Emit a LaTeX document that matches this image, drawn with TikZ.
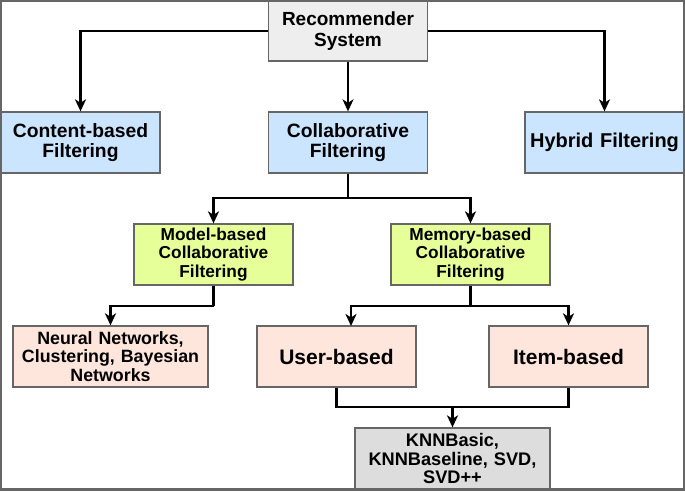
\documentclass[tikz,border=0pt]{standalone}
\usepackage{fontspec}
\setmainfont{Liberation Sans}
\usetikzlibrary{arrows.meta}
\definecolor{recfill}{HTML}{EEEEEE}
\definecolor{bluefill}{HTML}{CCE5FF}
\definecolor{greenfill}{HTML}{E6FF99}
\definecolor{pinkfill}{HTML}{FFE6DD}
\definecolor{knnfill}{HTML}{DDDDDD}
\definecolor{edgegray}{HTML}{666666}
\tikzset{
  box/.style={draw=edgegray, line width=1.3pt, align=center, inner sep=2pt,
    font=\bfseries, minimum height=61pt, text width=#1-4pt, minimum width=#1},
  box/.default=159pt,
  conn/.style={draw=black, line width=2.4pt, -{Stealth[length=12pt,width=11pt,inset=3.5pt]}},
  plain/.style={draw=black, line width=2.4pt}
}
\begin{document}
\begin{tikzpicture}[x=1pt,y=-1pt]
\useasboundingbox (0,0) rectangle (685,491);
\draw[edgegray, line width=2.2pt] (1,1) rectangle (684,489.5);

\node[box, fill=recfill, minimum height=60pt, font=\bfseries\fontsize{19}{20.5}\selectfont] (rec) at (348,31) {Recommender\\System};
\node[box, fill=bluefill, font=\bfseries\fontsize{19.3}{20.5}\selectfont] (cb) at (80.5,142.5) {Content-based\\Filtering};
\node[box, fill=bluefill, font=\bfseries\fontsize{19.3}{20.5}\selectfont] (cf) at (348,142.5) {Collaborative\\Filtering};
\node[box, fill=bluefill, font=\bfseries\fontsize{20}{21}\selectfont] (hf) at (604.5,142.5) {Hybrid Filtering};

\node[box, fill=greenfill, font=\bfseries\fontsize{17.3}{18.3}\selectfont] (mb) at (213.5,254.5) {Model-based\\Collaborative\\Filtering};
\node[box, fill=greenfill, font=\bfseries\fontsize{17.3}{18.3}\selectfont] (memb) at (470.5,254.5) {Memory-based\\Collaborative\\Filtering};

\node[box=195pt, fill=pinkfill, font=\bfseries\fontsize{17.8}{18.3}\selectfont] (nn) at (110.5,356.5) {Neural Networks,\\Clustering, Bayesian\\Networks};
\node[box, fill=pinkfill, font=\bfseries\fontsize{21}{22}\selectfont] (ub) at (336.5,356.5) {User-based};
\node[box, fill=pinkfill, font=\bfseries\fontsize{21}{22}\selectfont] (ib) at (568.5,356.5) {Item-based};

\node[box=195pt, fill=knnfill, font=\bfseries\fontsize{18.2}{18.3}\selectfont] (knn) at (452.5,458.5) {KNNBasic,\\KNNBaseline, SVD,\\SVD++};

% connectors
\draw[conn] (rec.west) -| (cb.north);
\draw[conn] (rec.east) -| (hf.north);
\draw[conn] (rec.south) -- (cf.north);

\coordinate (cfj) at (348,198);
\draw[plain] (cf.south) -- (cfj);
\draw[conn] (cfj) -| (mb.north);
\draw[conn] (cfj) -| (memb.north);

\coordinate (mbj) at (213.5,306);
\draw[plain] (mb.south) -- (mbj);
\draw[conn] (mbj) -| (nn.north);

\coordinate (membj) at (470.5,306);
\coordinate (ubin) at (351,326);
\draw[plain] (memb.south) -- (membj);
\draw[conn] (membj) -| (ubin);
\draw[conn] (membj) -| (ib.north);

\coordinate (ubj) at (336.5,407);
\coordinate (ibj) at (568.5,407);
\coordinate (knnj) at (452.5,407);
\draw[plain] (ub.south) -- (ubj) -- (ibj) -- (ib.south);
\draw[conn] (knnj) -- (knn.north);
\end{tikzpicture}
\end{document}
